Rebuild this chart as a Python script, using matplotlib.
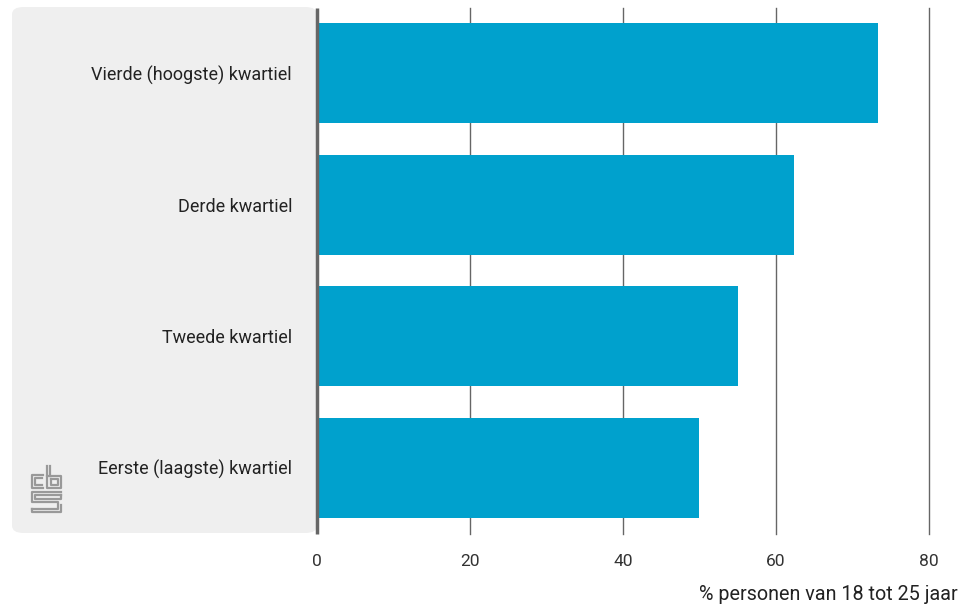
import matplotlib
matplotlib.use("Agg")
import matplotlib.pyplot as plt
from matplotlib.patches import FancyBboxPatch
from matplotlib.lines import Line2D

categories = ["Vierde (hoogste) kwartiel", "Derde kwartiel", "Tweede kwartiel", "Eerste (laagste) kwartiel"]
values = [73.4, 62.4, 55.1, 50.0]
xticks = [0, 20, 40, 60, 80]
xlabel = "% personen van 18 tot 25 jaar"

W, H = 968, 607
plt.rcParams['font.family'] = ['Roboto', 'DejaVu Sans']
fig = plt.figure(figsize=(W/100, H/100), dpi=100)

def fx(px): return px / W
def fy(py): return 1 - py / H

# grey label panel
panel = FancyBboxPatch((fx(12), fy(533)), fx(317) - fx(12), fy(7) - fy(533),
                       boxstyle="round,pad=0,rounding_size=0.012",
                       transform=fig.transFigure, facecolor="#efefef",
                       edgecolor="none", zorder=-10)
fig.patches.append(panel)

ax = fig.add_axes([fx(317), fy(533.5), fx(928.5) - fx(317), fy(7.5) - fy(533.5)])
ax.set_facecolor("none")
y = list(range(len(categories)))
ax.barh(y, values, height=0.76, color="#00a1cd", zorder=2)
ax.set_ylim(3.5, -0.5)
ax.set_xlim(0, 80)
ax.set_xticks(xticks)
ax.set_xticklabels([str(t) for t in xticks], fontsize=12.5, color="#333333")
ax.set_yticks(y)
ax.set_yticklabels(categories, fontsize=13, color="#222222")
ax.tick_params(axis="both", length=0)
ax.tick_params(axis="x", pad=15)
ax.tick_params(axis="y", pad=18)
for t in xticks[1:]:
    ax.axvline(t, color="#666666", lw=1, zorder=1, clip_on=False)
for s in ["top", "right", "bottom"]:
    ax.spines[s].set_visible(False)
ax.spines["left"].set_color("#666666")
ax.spines["left"].set_linewidth(2.5)
ax.spines["left"].set_capstyle("butt")
ax.spines["left"].set_zorder(3)

fig.text(fx(958), fy(595), xlabel, ha="right", va="center", fontsize=14.2, color="#222222")

# cbs logo (approximate)
lc = "#999999"
def pl(xs, ys):
    fig.add_artist(Line2D([fx(v) for v in xs], [fy(v) for v in ys], color=lc, lw=1.6,
                          transform=fig.transFigure))
# c
pl([43, 32, 32, 43], [475, 475, 488, 488])
pl([42, 35, 35, 42], [478, 478, 485, 485])
# b
pl([47, 47, 61, 61, 47], [466, 488, 488, 476, 476])
pl([50, 50], [466, 476])
pl([51, 58, 58, 51, 51], [479, 479, 485, 485, 479])
# s
pl([61, 32, 32, 58, 58, 32], [492, 492, 502, 502, 509, 509])
pl([61, 61, 35, 35, 61], [495, 499, 499, 495, 495])
pl([32, 32, 61, 61], [509, 512, 512, 505])

fig.savefig("out.png", dpi=100)
